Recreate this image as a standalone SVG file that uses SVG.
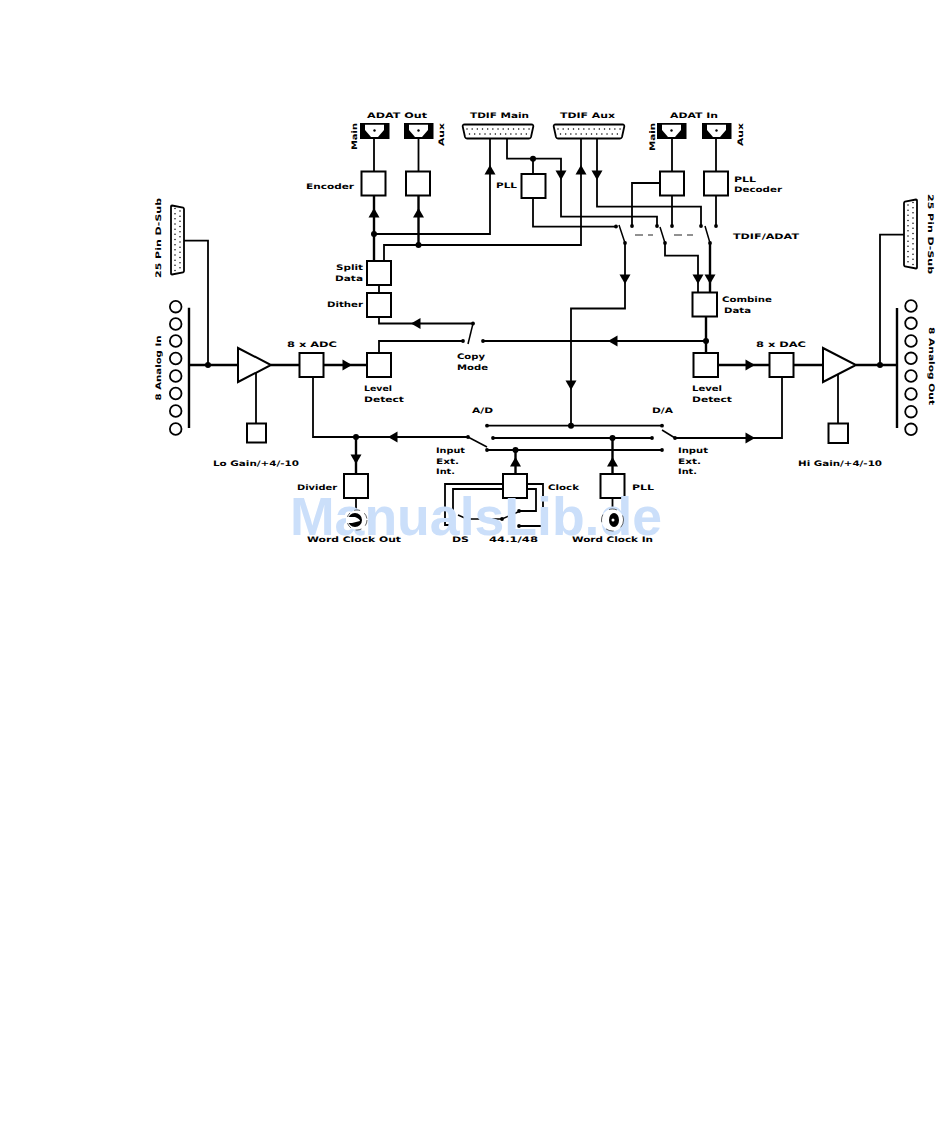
<svg xmlns="http://www.w3.org/2000/svg" width="950" height="1137" viewBox="0 0 950 1137">
<style>
text{font-family:"DejaVu Sans","Liberation Sans",sans-serif;font-weight:700;font-size:7.6px;fill:#000}
.b{fill:#fff;stroke:#000;stroke-width:2}
.l{fill:none;stroke:#000;stroke-width:1.8}
.t{fill:none;stroke:#000;stroke-width:2.400}
.s{fill:none;stroke:#000;stroke-width:1.500}
.dash{fill:none;stroke:#222;stroke-width:1}
.c{fill:#fff;stroke:#000;stroke-width:1.800}
.k{fill:#000}
.pins{fill:none;stroke:#000;stroke-width:1.500;stroke-linecap:round;stroke-dasharray:0 5.17}
.wm{font-family:"Liberation Sans",Arial,sans-serif;font-weight:700;font-size:54px;fill:#cbdffa}
</style>
<defs>
<polygon id="au" class="k" points="0,0 5.500,9.500 -5.500,9.500"/>
<polygon id="ad" class="k" points="0,0 5.500,-9.500 -5.500,-9.500"/>
<polygon id="ar" class="k" points="0,0 -9.500,-5.500 -9.500,5.500"/>
<polygon id="al" class="k" points="0,0 9.500,-5.500 9.500,5.500"/>
<circle id="d" class="k" r="3"/>
<circle id="p" class="k" r="1.900"/>
<g id="adat"><rect x="0" y="0" width="29.500" height="16" class="k"/><polygon points="5,1.800 24,1.800 24,7 18,14 11,14 5,7" fill="#fff"/><circle cx="14.500" cy="7.500" r="1.200" class="k"/></g>
<g id="tdif"><path d="M1.500 0H68.500Q70.500 0 70.300 2L68 12.500Q67.500 14 66 14H4Q2.500 14 2 12.500L-.3 2Q-.5 0 1.500 0Z" fill="#fff" stroke="#000" stroke-width="1.800"/><line class="pins" x1="4" y1="4.500" x2="67" y2="4.500"/><line class="pins" x1="6.500" y1="9.500" x2="64.500" y2="9.500"/></g>
</defs>

<g id="connectors">
<path class="l" d="M374 139V171M418.500 139V171"/>
<path class="t" d="M374 196V261"/>
<path class="t" d="M418.500 196V245"/>
<path class="l" d="M374 234H490V138"/>
<path class="l" d="M384 261V245H581V138"/>
<path class="l" d="M507 138V158.700H561V216.700H657V226"/>
<path class="l" d="M533 158.700V174M533 198V226.700H616"/>
<path class="l" d="M597 138V206.700H701V226"/>
<path class="l" d="M672 139V171M672 196V226"/>
<path class="l" d="M716 139V171M716 196V226"/>
<path class="l" d="M660 183H632V226"/>
<path class="s" d="M619 225L625 243M660 227L665 243M705 226L710 243"/>
<path class="dash" d="M635 235H643M648 235H653M674 235H682M687 235H693"/>
<path class="l" d="M625 243V308.500H571V425.700"/>
<path class="l" d="M665 243V255.700H698V292"/>
<path class="t" d="M710 243V292"/>
<path class="t" d="M706 317V353"/>
<path class="l" d="M379 285V293M379 317V323.500H473"/>
<path class="s" d="M473 323.500L468 344"/>
<path class="l" d="M379 353V341H463"/>
<path class="l" d="M483 341H706"/>
<path class="t" d="M323 365H367M271 365H299M189 365H238"/>
<path class="l" d="M184 240.700H208V365"/>
<path class="l" d="M256 373V423"/>
<path class="t" d="M718 365H769M793 365H823M856 365H897"/>
<path class="l" d="M880 365V234.700H904"/>
<path class="l" d="M838 373V423"/>
<path class="t" d="M189 307.700V428M897 308V428"/>
<path class="l" d="M313 377V437H468"/>
<path class="s" d="M468 437L487 447"/>
<path class="t" d="M356 437V473"/>
<path class="l" d="M356 498V510"/>
<path class="l" d="M487 425.700H662M493 438H652M487 450H662"/>
<path class="s" d="M662 430L675 438"/>
<path class="l" d="M675 438H782V377"/>
<path class="t" d="M515.500 450V474"/>
<path class="t" d="M612.500 438V473"/>
<path class="l" d="M612.500 498V510"/>
<path class="l" d="M503 484H445V525H450"/>
<path class="l" d="M503 489H453V513"/>
<path class="l" d="M527 484H543V526H519"/>
<path class="l" d="M527 489H536V511H519"/>
<path class="s" d="M458 515L467 519H502L518 512"/>
<use href="#au" x="374" y="208"/><use href="#au" x="418.500" y="208"/>
<use href="#au" x="490" y="165"/><use href="#au" x="581" y="165"/>
<use href="#ad" x="561" y="180"/><use href="#ad" x="597" y="180"/>
<use href="#ad" x="625" y="284"/><use href="#ad" x="698" y="284"/><use href="#ad" x="710" y="284"/>
<use href="#ad" x="571" y="390"/>
<use href="#al" x="411" y="323.500"/><use href="#al" x="608" y="341"/><use href="#al" x="388" y="437"/>
<use href="#ar" x="352" y="365"/><use href="#ar" x="755" y="365"/><use href="#ar" x="755" y="438"/>
<use href="#ad" x="356" y="464"/><use href="#au" x="515.500" y="457"/><use href="#au" x="612.500" y="457"/>
<use href="#d" x="374" y="234"/><use href="#d" x="418.500" y="245"/><use href="#d" x="533" y="158.700"/>
<use href="#d" x="706" y="341"/><use href="#d" x="208" y="365"/><use href="#d" x="880" y="365"/>
<use href="#d" x="571" y="425.700"/><use href="#d" x="612.500" y="438"/><use href="#d" x="515.500" y="450"/><use href="#d" x="356" y="437"/>
<use href="#p" x="616" y="226.500"/><use href="#p" x="625" y="243"/><use href="#p" x="632" y="226"/><use href="#p" x="657" y="226"/><use href="#p" x="665" y="243"/><use href="#p" x="672" y="226"/><use href="#p" x="701" y="226"/><use href="#p" x="710" y="243"/><use href="#p" x="716" y="226"/>
<use href="#p" x="473" y="323.500"/><use href="#p" x="463" y="341"/><use href="#p" x="483" y="341"/>
<use href="#p" x="487" y="425.700"/><use href="#p" x="662" y="425.700"/><use href="#p" x="493" y="438"/><use href="#p" x="652" y="438"/><use href="#p" x="487" y="450"/><use href="#p" x="662" y="450"/><use href="#p" x="468" y="437"/><use href="#p" x="675" y="438"/>
<use href="#p" x="519" y="511"/><use href="#p" x="519" y="526"/><use href="#p" x="502" y="519"/>
</g>

<g id="adat-out"><text x="367" y="117.500" textLength="60" lengthAdjust="spacingAndGlyphs">ADAT Out</text>
<use href="#adat" x="360" y="123"/><use href="#adat" x="404" y="123"/>
<text transform="translate(357 150) rotate(-90)" textLength="27" lengthAdjust="spacingAndGlyphs">Main</text>
<text transform="translate(444 146) rotate(-90)" textLength="23" lengthAdjust="spacingAndGlyphs">Aux</text></g>
<g id="tdif-main"><text x="470" y="117.500" textLength="59" lengthAdjust="spacingAndGlyphs">TDIF Main</text><use href="#tdif" x="463" y="124.500"/></g>
<g id="tdif-aux"><text x="560" y="117.500" textLength="55" lengthAdjust="spacingAndGlyphs">TDIF Aux</text><use href="#tdif" x="554" y="124.500"/></g>
<g id="adat-in"><text x="670" y="117.500" textLength="48" lengthAdjust="spacingAndGlyphs">ADAT In</text>
<use href="#adat" x="657" y="123"/><use href="#adat" x="702" y="123"/>
<text transform="translate(655 151) rotate(-90)" textLength="28" lengthAdjust="spacingAndGlyphs">Main</text>
<text transform="translate(743 146) rotate(-90)" textLength="23" lengthAdjust="spacingAndGlyphs">Aux</text></g>

<g id="encoder"><rect class="b" x="361.500" y="171.500" width="24" height="24"/><text x="306" y="189" textLength="48" lengthAdjust="spacingAndGlyphs">Encoder</text></g>
<g id="encoder-aux"><rect class="b" x="406" y="171.500" width="24" height="24"/></g>
<g id="pll-tdif"><rect class="b" x="521.500" y="174" width="24" height="24"/><text x="496" y="188" textLength="21" lengthAdjust="spacingAndGlyphs">PLL</text></g>
<g id="pll-adat"><rect class="b" x="660" y="171.500" width="24" height="24"/></g>
<g id="decoder"><rect class="b" x="704" y="171.500" width="24" height="24"/><text x="734" y="181.500" textLength="22" lengthAdjust="spacingAndGlyphs">PLL</text><text x="734" y="192" textLength="48" lengthAdjust="spacingAndGlyphs">Decoder</text></g>
<g id="switch-label"><text x="733" y="239" textLength="66" lengthAdjust="spacingAndGlyphs">TDIF/ADAT</text></g>
<g id="split"><rect class="b" x="367" y="261" width="24" height="24"/><text x="336" y="270" textLength="27" lengthAdjust="spacingAndGlyphs">Split</text><text x="335" y="281" textLength="28" lengthAdjust="spacingAndGlyphs">Data</text></g>
<g id="dither"><rect class="b" x="367" y="293" width="24" height="24"/><text x="327" y="307" textLength="36" lengthAdjust="spacingAndGlyphs">Dither</text></g>
<g id="combine"><rect class="b" x="692.500" y="292.500" width="24.500" height="24"/><text x="722" y="302" textLength="50" lengthAdjust="spacingAndGlyphs">Combine</text><text x="724" y="312.500" textLength="27" lengthAdjust="spacingAndGlyphs">Data</text></g>
<g id="copy-mode"><text x="457" y="359" textLength="28" lengthAdjust="spacingAndGlyphs">Copy</text><text x="457" y="370" textLength="31" lengthAdjust="spacingAndGlyphs">Mode</text></g>

<g id="dsub-left"><path d="M172 205.500L183 207.500Q184 208 184 209V271Q184 272 183 272.500L172 274.500Q171 274.500 171 273.500V206.500Q171 205.500 172 205.500Z" fill="#fff" stroke="#000" stroke-width="1.800"/><line class="pins" x1="175" y1="208.500" x2="175" y2="271.500"/><line class="pins" x1="180" y1="211" x2="180" y2="269"/>
<text transform="translate(161 278) rotate(-90)" textLength="80" lengthAdjust="spacingAndGlyphs">25 Pin D-Sub</text></g>
<g id="analog-in">
<circle class="c" cx="175.700" cy="306.700" r="5.800"/><circle class="c" cx="175.700" cy="324" r="5.800"/><circle class="c" cx="175.700" cy="341" r="5.800"/><circle class="c" cx="175.700" cy="358.500" r="5.800"/><circle class="c" cx="175.700" cy="376" r="5.800"/><circle class="c" cx="175.700" cy="393.500" r="5.800"/><circle class="c" cx="175.700" cy="411" r="5.800"/><circle class="c" cx="175.700" cy="429" r="5.800"/>
<text transform="translate(161 400.500) rotate(-90)" textLength="65" lengthAdjust="spacingAndGlyphs">8 Analog In</text></g>
<g id="amp-in"><polygon class="b" points="238,348 238,382 271,365"/></g>
<g id="lo-gain"><rect class="b" x="247" y="423.500" width="19" height="19"/><text x="213" y="465.500" textLength="86" lengthAdjust="spacingAndGlyphs">Lo Gain/+4/-10</text></g>
<g id="adc"><rect class="b" x="299.500" y="353" width="24" height="24"/><text x="287" y="347" textLength="50" lengthAdjust="spacingAndGlyphs">8 x ADC</text></g>
<g id="level-in"><rect class="b" x="367" y="353" width="24" height="24"/><text x="364" y="391" textLength="28" lengthAdjust="spacingAndGlyphs">Level</text><text x="364" y="401.500" textLength="40" lengthAdjust="spacingAndGlyphs">Detect</text></g>
<g id="level-out"><rect class="b" x="693.500" y="353" width="24.500" height="24"/><text x="692" y="391" textLength="30" lengthAdjust="spacingAndGlyphs">Level</text><text x="692" y="402" textLength="40" lengthAdjust="spacingAndGlyphs">Detect</text></g>
<g id="dac"><rect class="b" x="769.500" y="353" width="24" height="24"/><text x="756" y="347" textLength="50" lengthAdjust="spacingAndGlyphs">8 x DAC</text></g>
<g id="amp-out"><polygon class="b" points="823,348 823,382 856,365"/></g>
<g id="hi-gain"><rect class="b" x="828.500" y="423.500" width="19.500" height="19.500"/><text x="798" y="466" textLength="84" lengthAdjust="spacingAndGlyphs">Hi Gain/+4/-10</text></g>
<g id="analog-out">
<circle class="c" cx="911" cy="306" r="5.800"/><circle class="c" cx="911" cy="323.300" r="5.800"/><circle class="c" cx="911" cy="341" r="5.800"/><circle class="c" cx="911" cy="358.300" r="5.800"/><circle class="c" cx="911" cy="376" r="5.800"/><circle class="c" cx="911" cy="394" r="5.800"/><circle class="c" cx="911" cy="411.700" r="5.800"/><circle class="c" cx="911" cy="429.300" r="5.800"/>
<text transform="translate(928.500 327) rotate(90)" textLength="78" lengthAdjust="spacingAndGlyphs">8 Analog Out</text></g>
<g id="dsub-right"><path d="M916 199.500L905 201.500Q904 202 904 203V265Q904 266 905 266.500L916 268.500Q917 268.500 917 267.500V200.500Q917 199.500 916 199.500Z" fill="#fff" stroke="#000" stroke-width="1.800"/><line class="pins" x1="913" y1="202.500" x2="913" y2="265.500"/><line class="pins" x1="908" y1="205" x2="908" y2="263"/>
<text transform="translate(928 194) rotate(90)" textLength="80" lengthAdjust="spacingAndGlyphs">25 Pin D-Sub</text></g>

<g id="bus-labels"><text x="472" y="413" textLength="21" lengthAdjust="spacingAndGlyphs">A/D</text><text x="652" y="413" textLength="21" lengthAdjust="spacingAndGlyphs">D/A</text>
<text x="436" y="453" textLength="29" lengthAdjust="spacingAndGlyphs">Input</text><text x="436" y="463.500" textLength="23" lengthAdjust="spacingAndGlyphs">Ext.</text><text x="436" y="474" textLength="19" lengthAdjust="spacingAndGlyphs">Int.</text>
<text x="678" y="453" textLength="30" lengthAdjust="spacingAndGlyphs">Input</text><text x="678" y="463.500" textLength="23" lengthAdjust="spacingAndGlyphs">Ext.</text><text x="678" y="474" textLength="19" lengthAdjust="spacingAndGlyphs">Int.</text></g>
<g id="divider"><rect class="b" x="344" y="474" width="24" height="24"/><text x="297" y="490" textLength="40" lengthAdjust="spacingAndGlyphs">Divider</text></g>
<g id="clock"><rect class="b" x="503" y="474" width="24" height="24"/><text x="548" y="490" textLength="31" lengthAdjust="spacingAndGlyphs">Clock</text>
<text x="452" y="542" textLength="17" lengthAdjust="spacingAndGlyphs">DS</text><text x="489" y="542" textLength="49" lengthAdjust="spacingAndGlyphs">44.1/48</text></g>
<g id="pll-wc"><rect class="b" x="600.500" y="474" width="24" height="24"/><text x="632" y="490" textLength="22" lengthAdjust="spacingAndGlyphs">PLL</text></g>

<g id="watermark"><text class="wm" x="290" y="535" textLength="372" lengthAdjust="spacingAndGlyphs">ManualsLib.de</text></g>

<g id="wc-out"><circle cx="357" cy="520" r="10" fill="#fff" stroke="#000" stroke-width=".6" stroke-dasharray="6 5"/><ellipse cx="355" cy="520" rx="7" ry="7" class="k"/><path d="M346 517H355Q360 519 360 521L352 523H346Z" fill="#fff"/><text x="307" y="542" textLength="94" lengthAdjust="spacingAndGlyphs">Word Clock Out</text></g>
<g id="wc-in"><circle cx="612.500" cy="520" r="11" fill="#fff" stroke="#000" stroke-width=".6" stroke-dasharray="8 8"/><ellipse cx="614" cy="520" rx="5" ry="7" class="k"/><circle cx="613" cy="520" r="1.500" fill="#fff"/><text x="572" y="542" textLength="81" lengthAdjust="spacingAndGlyphs">Word Clock In</text></g>
</svg>
